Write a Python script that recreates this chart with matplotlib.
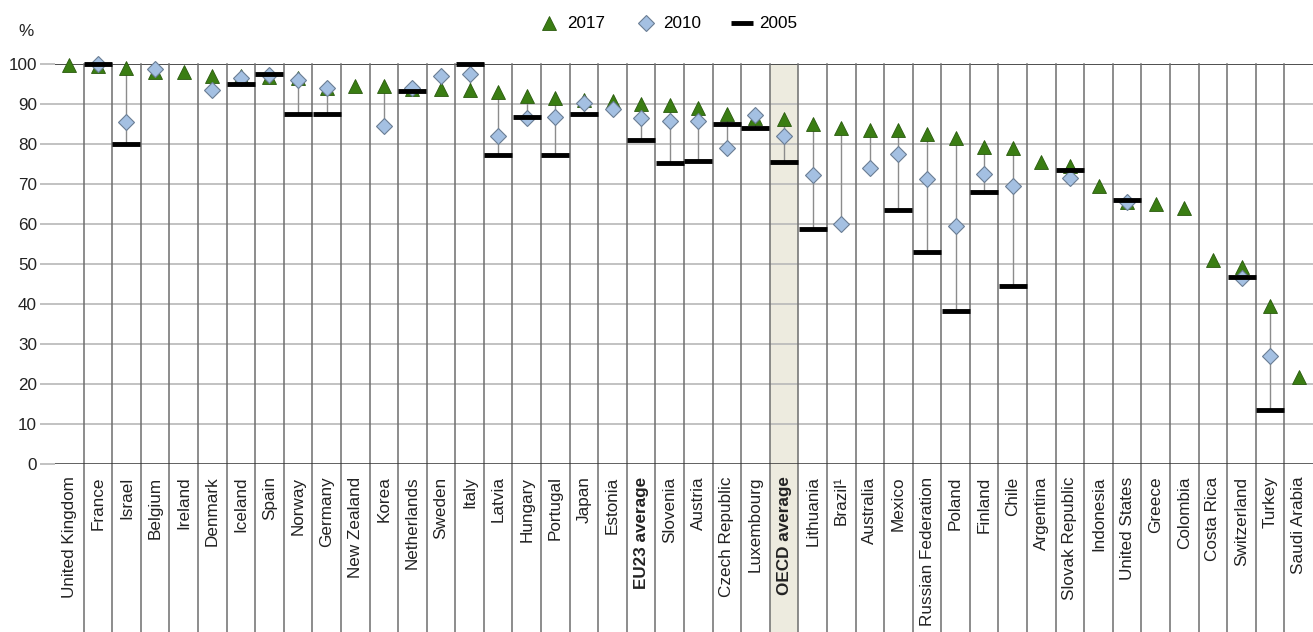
import numpy as np
import matplotlib
matplotlib.use("Agg")
import matplotlib.pyplot as plt
from matplotlib.lines import Line2D

plt.rcParams['font.family'] = ['Liberation Sans', 'DejaVu Sans']

countries = ["United Kingdom", "France", "Israel", "Belgium", "Ireland", "Denmark",
             "Iceland", "Spain", "Norway", "Germany", "New Zealand", "Korea",
             "Netherlands", "Sweden", "Italy", "Latvia", "Hungary", "Portugal",
             "Japan", "Estonia", "EU23 average", "Slovenia", "Austria",
             "Czech Republic", "Luxembourg", "OECD average", "Lithuania",
             "Brazil\u00b9", "Australia", "Mexico", "Russian Federation", "Poland",
             "Finland", "Chile", "Argentina", "Slovak Republic", "Indonesia",
             "United States", "Greece", "Colombia", "Costa Rica", "Switzerland",
             "Turkey", "Saudi Arabia"]

nan = np.nan
v2017 = [99.7, 99.6, 99.0, 98.0, 98.0, 97.0, 97.0, 96.8, 96.5, 94.0, 94.5, 94.5,
         93.8, 93.8, 93.5, 93.0, 92.0, 91.5, 91.0, 90.8, 90.0, 89.8, 89.0,
         87.5, 86.5, 86.3, 85.0, 84.0, 83.5, 83.5, 82.5, 81.5, 79.3, 79.0,
         75.5, 74.5, 69.5, 65.5, 65.0, 64.0, 51.0, 49.3, 39.5, 21.8]
v2010 = [nan, 100.0, 85.5, 98.8, nan, 93.5, 96.5, 97.2, 96.0, 94.0, nan, 84.5,
         94.0, 97.0, 97.5, 82.0, 86.5, 86.8, 90.3, 88.8, 86.5, 85.8, 85.8,
         79.0, 87.2, 82.0, 72.2, 60.0, 74.0, 77.5, 71.2, 59.5, 72.5, 69.5,
         nan, 71.5, nan, 65.5, nan, nan, nan, 46.5, 27.0, nan]
v2005 = [nan, 100.0, 80.0, nan, nan, nan, 95.0, 97.6, 87.5, 87.5, nan, nan,
         93.2, nan, 100.0, 77.3, 86.8, 77.3, 87.5, nan, 81.0, 75.3, 75.7,
         85.0, 84.0, 75.5, 58.8, nan, nan, 63.5, 53.0, 38.3, 68.0, 44.5,
         nan, 73.5, nan, 66.0, nan, nan, nan, 46.8, 13.5, nan]

x = np.arange(len(countries))
a17 = np.array(v2017)
a10 = np.array(v2010)
a05 = np.array(v2005)
allv = np.vstack([a17, a10, a05])
lo = np.nanmin(allv, axis=0)
hi = np.nanmax(allv, axis=0)

fig = plt.figure(figsize=(13.13, 6.32), dpi=100)
ax = fig.add_axes([55 / 1313, 168 / 632, 1258 / 1313, 400 / 632])
ax.set_xlim(-0.5, len(countries) - 0.5)
ax.set_ylim(0, 100)

# shaded OECD column, extends down through labels
oecd = countries.index("OECD average")
ax.axvspan(oecd - 0.5, oecd + 0.5, ymin=-0.42, ymax=1, color="#edebdf",
           zorder=0, clip_on=False, lw=0)

for yv in range(10, 100, 10):
    ax.axhline(yv, color="#b8b8b8", lw=1.2, zorder=1)
ax.axhline(100, color="#404040", lw=1.3, zorder=1)
ax.axhline(0, color="#333333", lw=1.8, zorder=5)
for i in range(len(countries) - 1):
    ax.axvline(i + 0.5, ymin=-0.42, ymax=1, color="#6e6e6e", lw=1.1,
               zorder=1, clip_on=False)

ax.vlines(x, lo, hi, color="#8c8c8c", lw=1.0, zorder=2)
ax.plot(x, a17, ls="none", marker="^", ms=10.5, mfc="#3a7d13", mec="#2a5a0e",
        mew=0.6, zorder=3, clip_on=False)
ax.plot(x, a10, ls="none", marker="D", ms=8.5, mfc="#a4c0e2", mec="#6a7d94",
        mew=0.8, zorder=4, clip_on=False)
ax.plot(x, a05, ls="none", marker="_", ms=20, mec="black", mew=3.5,
        zorder=5, clip_on=False)

for s in ax.spines.values():
    s.set_visible(False)
ax.set_yticks(range(0, 101, 10))
ax.tick_params(axis="y", length=11, color="#b8b8b8", width=1.2, labelsize=12.3,
               pad=2, labelcolor="#222222")
ax.set_xticks(x)
ax.set_xticklabels(countries, rotation=90, fontsize=12.3, va="top", ha="center",
                   color="#222222")
ax.tick_params(axis="x", length=0, pad=9)
for lab in ax.get_xticklabels():
    if "average" in lab.get_text():
        lab.set_fontweight("bold")

fig.text(18 / 1313, 1 - 31 / 632, "%", fontsize=12.3, va="center", ha="left",
         color="#222222")

handles = [
    Line2D([], [], ls="none", marker="^", ms=10.5, mfc="#3a7d13", mec="#2a5a0e", mew=0.6),
    Line2D([], [], ls="none", marker="D", ms=8.5, mfc="#a4c0e2", mec="#6a7d94", mew=0.8),
    Line2D([], [], ls="none", marker="_", ms=16, mec="black", mew=3.5),
]
fig.legend(handles, ["2017", "2010", "2005"], loc="center", ncol=3,
           bbox_to_anchor=(668 / 1313, 1 - 24 / 632), frameon=False,
           fontsize=12.3, handletextpad=0.4, columnspacing=1.7, handlelength=1.3)

fig.savefig("out.png", dpi=100)
